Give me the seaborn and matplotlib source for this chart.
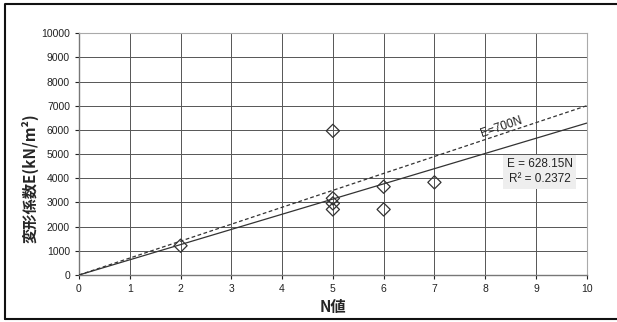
import matplotlib
matplotlib.use("Agg")
import matplotlib.pyplot as plt
import seaborn as sns
import numpy as np
import pandas as pd
from matplotlib.lines import Line2D

N_values = [2, 5, 5, 5, 5, 6, 6, 7]
E_values = [1210, 5960, 3170, 2960, 2710, 3650, 2710, 3830]
fit_slope = 628.15
ref_slope = 700
line_x = [0, 10]
x_ticks = list(range(0, 11))
y_ticks = list(range(0, 10001, 1000))

sns.set_theme(style="white")
plt.rcParams['font.family'] = ['Liberation Sans', 'Noto Sans CJK JP', 'DejaVu Sans']

fig = plt.figure(figsize=(6.17, 3.22), dpi=100)
ax = fig.add_axes([0.128, 0.146, 0.823, 0.751])

df = pd.DataFrame({"N": N_values, "E": E_values})
fit_df = pd.DataFrame({"N": line_x, "E": [fit_slope * v for v in line_x]})
ref_df = pd.DataFrame({"N": line_x, "E": [ref_slope * v for v in line_x]})

sns.lineplot(data=ref_df, x="N", y="E", ax=ax, color="#333333", lw=0.9,
             linestyle=(0, (3, 2)), zorder=3)
sns.lineplot(data=fit_df, x="N", y="E", ax=ax, color="#333333", lw=0.9, zorder=3)
sns.scatterplot(data=df, x="N", y="E", ax=ax, marker="D", s=45,
                facecolors="none", edgecolor="#333333", linewidth=0.9, zorder=4)

ax.set_xlim(0, 10)
ax.set_ylim(0, 10000)
ax.set_xticks(x_ticks)
ax.set_yticks(y_ticks)
ax.grid(True, color="#555555", lw=0.7)
ax.set_axisbelow(True)
for s in ["top", "right"]:
    ax.spines[s].set_color("#aaaaaa")
    ax.spines[s].set_linewidth(0.8)
for s in ["left", "bottom"]:
    ax.spines[s].set_color("#777777")
    ax.spines[s].set_linewidth(1.0)
ax.tick_params(axis="both", labelsize=7.5, colors="#222222", length=3,
               width=0.8, direction="out", bottom=True, left=True)
for t in ax.get_xticklabels() + ax.get_yticklabels():
    t.set_color("#222222")

jp = ['Noto Sans CJK JP', 'DejaVu Sans']
ax.set_xlabel("N値", fontsize=11, fontweight="bold", family=jp)
ax.set_ylabel("変形係数E(kN/m²)", fontsize=11, fontweight="bold", family=jp)
ax.xaxis.set_label_coords(0.5, -0.10)
ax.yaxis.set_label_coords(-0.08, 0.40)

ax.text(8.33, 6120, "E=700N", rotation=19, fontsize=8.5, color="#222222",
        ha="center", va="center", rotation_mode="anchor")
ax.text(9.07, 4270, "E = 628.15N\nR² = 0.2372", fontsize=8.5, color="#222222",
        ha="center", va="center", linespacing=1.35,
        bbox=dict(boxstyle="square,pad=0.3", fc="#eeeeee", ec="none"))

fig.lines.append(Line2D([5 / 617, 5 / 617, 1.0], [3 / 322, 318 / 322, 318 / 322],
                        transform=fig.transFigure, color="#111111", lw=1.5))
fig.lines.append(Line2D([5 / 617, 1.0], [3 / 322, 3 / 322],
                        transform=fig.transFigure, color="#111111", lw=1.5))

fig.savefig("out.png", dpi=100)
